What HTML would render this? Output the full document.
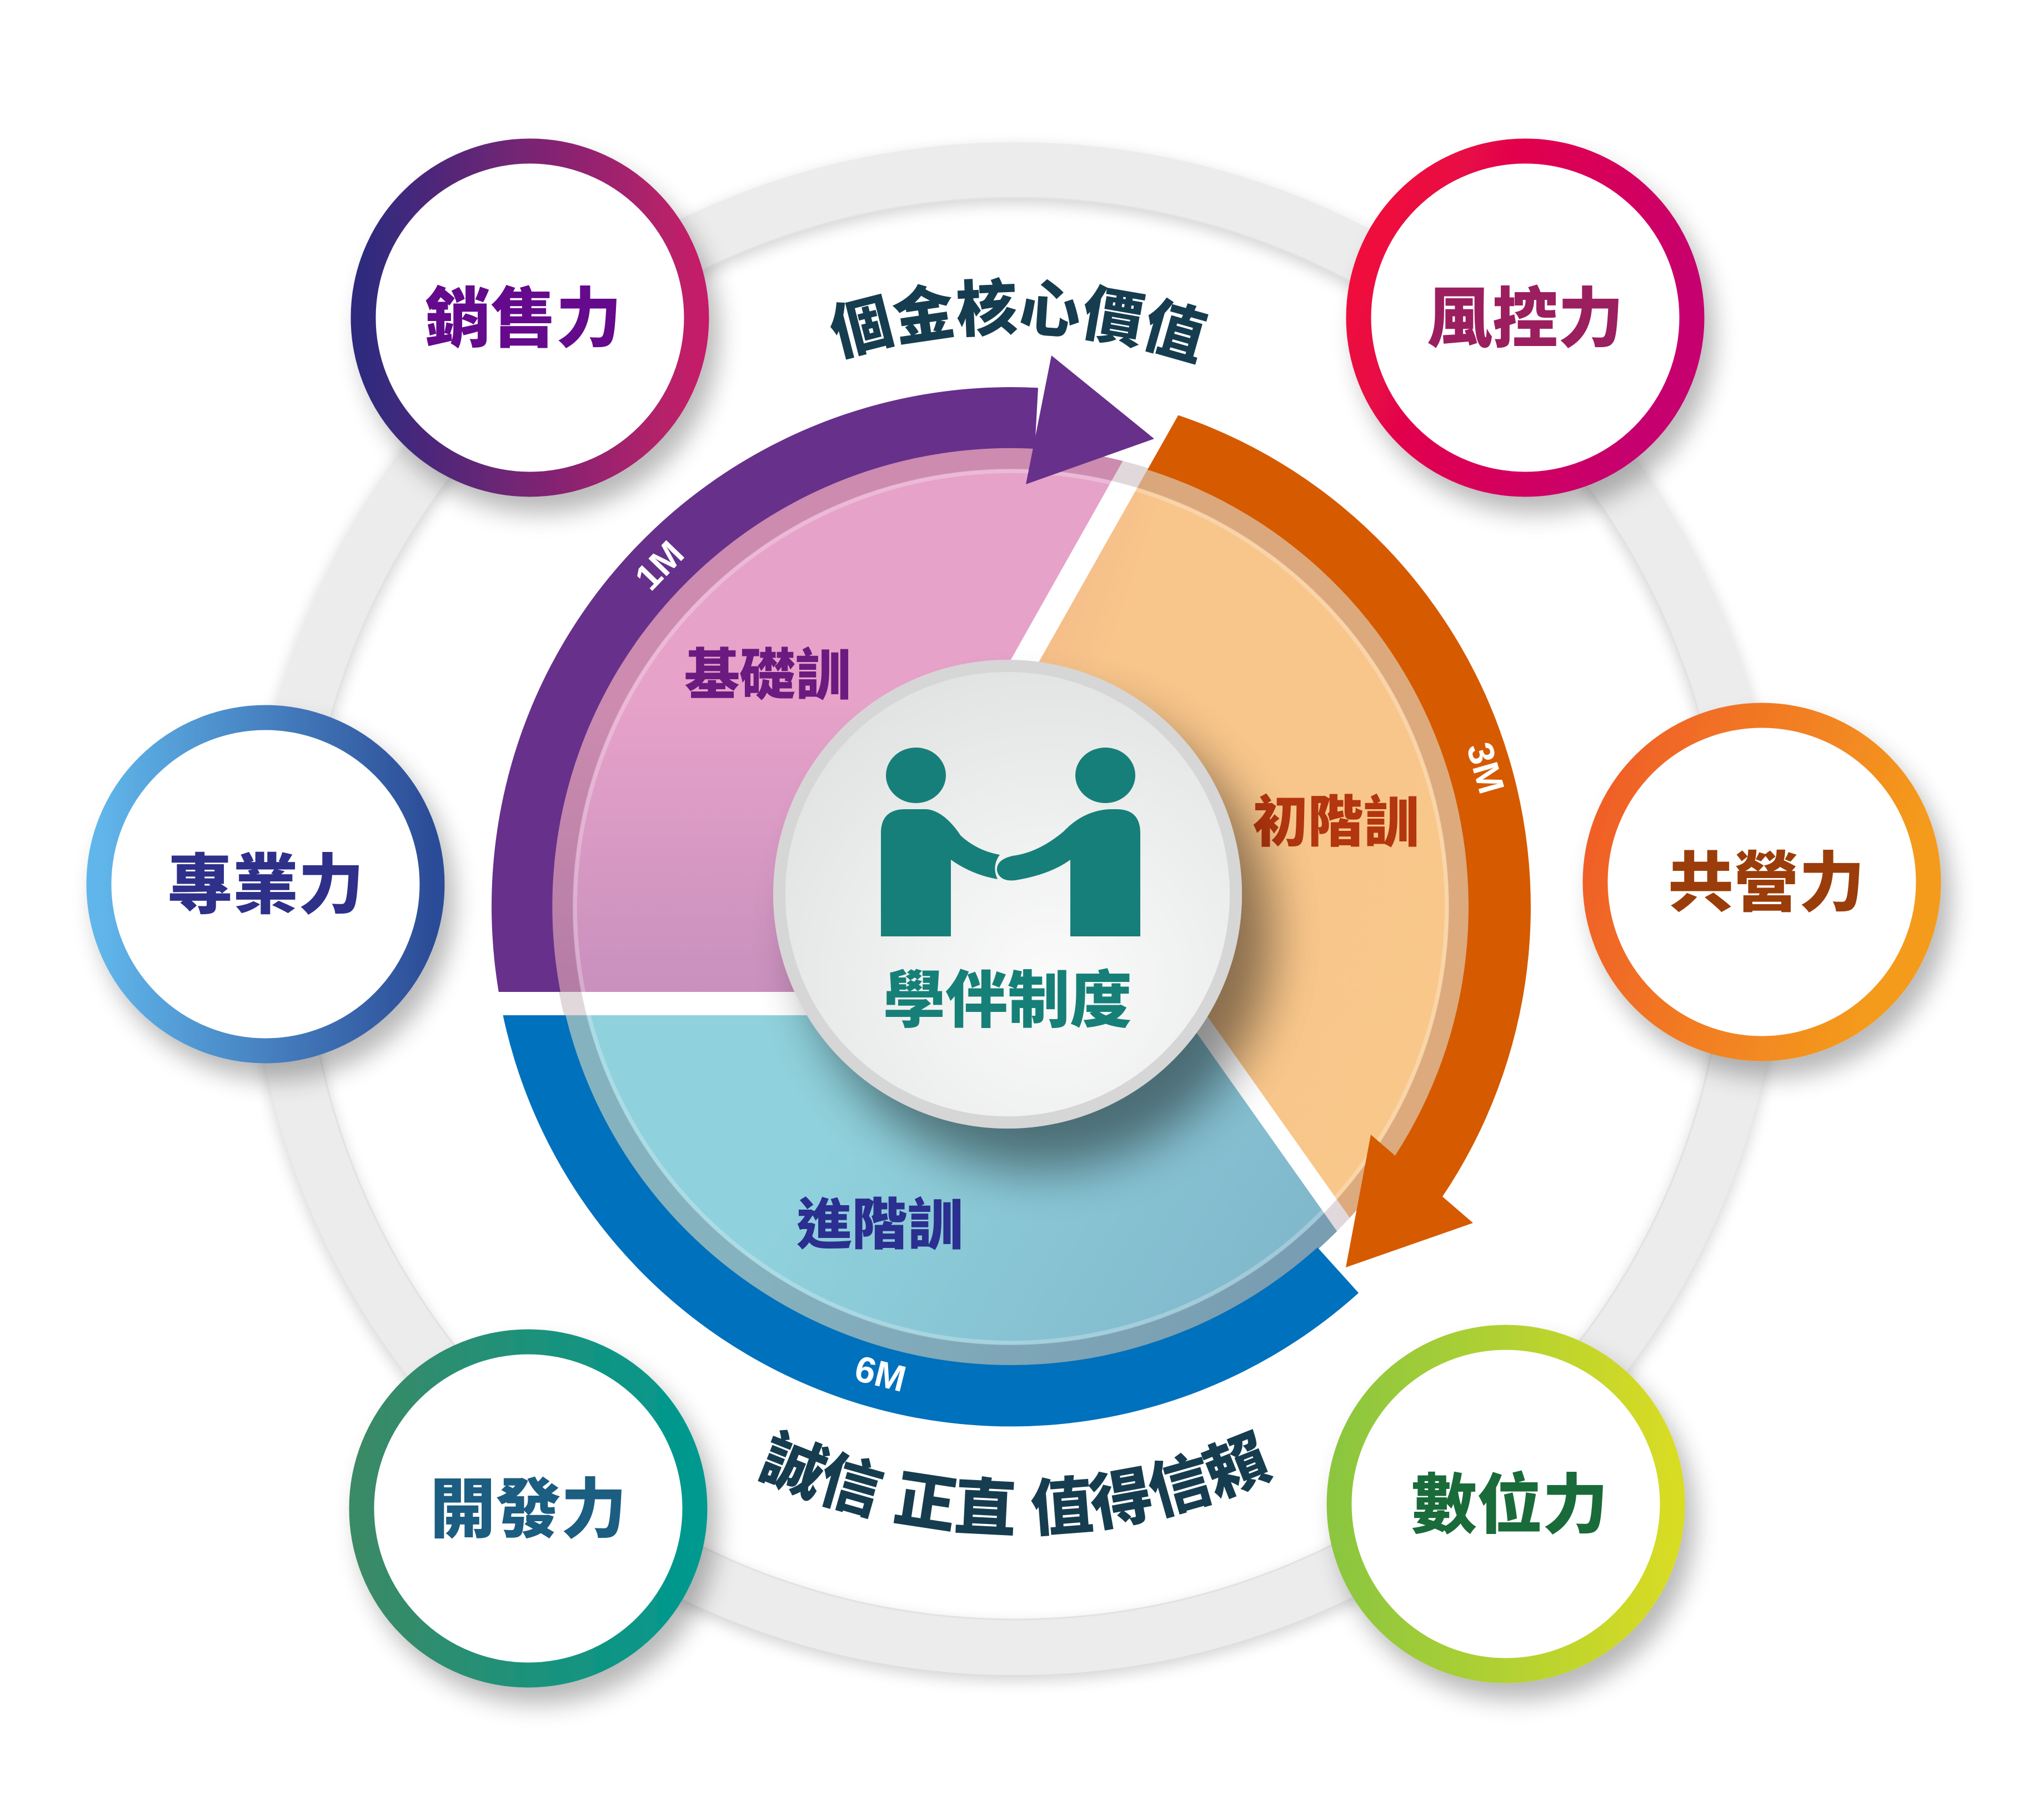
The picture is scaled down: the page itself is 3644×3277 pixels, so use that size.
<!DOCTYPE html>
<html><head><meta charset="utf-8">
<style>
html,body{margin:0;padding:0;background:#fff;}
svg{display:block;}
text{font-family:"Liberation Sans","Noto Sans CJK TC",sans-serif;font-weight:900;}
</style></head>
<body>
<svg width="3644" height="3277" viewBox="0 0 3644 3277" xmlns="http://www.w3.org/2000/svg">
<defs>
  <filter id="sh" x="-30%" y="-30%" width="160%" height="160%">
    <feGaussianBlur in="SourceAlpha" stdDeviation="22"/>
    <feOffset dx="18" dy="30" result="o"/>
    <feComponentTransfer><feFuncA type="linear" slope="0.28"/></feComponentTransfer>
    <feMerge><feMergeNode/><feMergeNode in="SourceGraphic"/></feMerge>
  </filter>
  <filter id="shc" x="-40%" y="-40%" width="180%" height="180%">
    <feGaussianBlur in="SourceAlpha" stdDeviation="45"/>
    <feOffset dx="55" dy="75" result="o"/>
    <feComponentTransfer><feFuncA type="linear" slope="0.45"/></feComponentTransfer>
    <feMerge><feMergeNode/><feMergeNode in="SourceGraphic"/></feMerge>
  </filter>
  <filter id="shr" x="-10%" y="-10%" width="120%" height="120%">
    <feGaussianBlur in="SourceAlpha" stdDeviation="14"/>
    <feOffset dx="0" dy="10"/>
    <feComponentTransfer><feFuncA type="linear" slope="0.18"/></feComponentTransfer>
    <feMerge><feMergeNode/><feMergeNode in="SourceGraphic"/></feMerge>
  </filter>
  <linearGradient id="g1" x1="0" y1="0" x2="1" y2="0"><stop offset="0" stop-color="#2e2a7e"/><stop offset="1" stop-color="#c41f68"/></linearGradient>
  <linearGradient id="g2" x1="0" y1="0" x2="1" y2="0.4"><stop offset="0" stop-color="#f50a35"/><stop offset="1" stop-color="#c6006e"/></linearGradient>
  <linearGradient id="g3" x1="0" y1="0" x2="1" y2="0"><stop offset="0" stop-color="#60b6ea"/><stop offset="1" stop-color="#2c4c97"/></linearGradient>
  <linearGradient id="g4" x1="0" y1="0" x2="1" y2="0.3"><stop offset="0" stop-color="#ef5a29"/><stop offset="1" stop-color="#f49b1d"/></linearGradient>
  <linearGradient id="g5" x1="0" y1="0" x2="1" y2="0"><stop offset="0" stop-color="#3a8a66"/><stop offset="1" stop-color="#00998f"/></linearGradient>
  <linearGradient id="g6" x1="0" y1="0" x2="1" y2="0"><stop offset="0" stop-color="#8cc63f"/><stop offset="1" stop-color="#d8dc24"/></linearGradient>
  <linearGradient id="pk" x1="0" y1="0" x2="0" y2="1"><stop offset="0.65" stop-color="#e6a2c9"/><stop offset="1" stop-color="#c990be"/></linearGradient>
  <linearGradient id="or" x1="0" y1="0" x2="1" y2="0.6"><stop offset="0" stop-color="#e99e80"/><stop offset="0.35" stop-color="#f8c58b"/><stop offset="1" stop-color="#f9c88a"/></linearGradient>
  <linearGradient id="bl" x1="0" y1="0" x2="1" y2="0.3"><stop offset="0.4" stop-color="#8fd1dc"/><stop offset="1" stop-color="#78a9c2"/></linearGradient>
  <radialGradient id="cc" cx="0.6" cy="0.7" r="0.8"><stop offset="0" stop-color="#fbfbfb"/><stop offset="1" stop-color="#dfe1e1"/></radialGradient>
  <clipPath id="pie"><circle cx="1820" cy="1633" r="828"/></clipPath>
  <clipPath id="cpPurple"><polygon points="600,300 2330,300 1490,1786 600,1786"/></clipPath>
  <clipPath id="cpOrange"><polygon points="2374,300 3200,300 3200,2400 2500,2400 1535,1786"/></clipPath>
  <clipPath id="cpBlue"><polygon points="600,1828 2132,1828 2961,3000 600,3000"/></clipPath>
  <path id="topArc" d="M 778 1636 A 1042 1042 0 0 1 2862 1636"/>
  <path id="botArc" d="M 708 1636 A 1120 1120 0 0 0 2948 1636"/>
</defs>

<!-- big gray ring -->
<g filter="url(#shr)">
<circle cx="1828" cy="1636" r="1330" fill="none" stroke="#ececec" stroke-width="100"/>
</g>
<circle cx="1828" cy="1636" r="1280" fill="none" stroke="#e2e2e2" stroke-width="3"/>

<!-- arched texts -->
<text font-size="110" fill="#163d4f" text-anchor="middle"><textPath href="#topArc" startOffset="50.4%">個金核心價值</textPath></text>
<text font-size="112" fill="#163d4f" text-anchor="middle"><textPath href="#botArc" startOffset="50%">誠信 正直 值得信賴</textPath></text>

<!-- pie fills -->
<g clip-path="url(#pie)">
  <polygon points="600,300 2320,300 1483,1786 600,1786" fill="url(#pk)"/>
  <polygon points="2374,300 3000,300 3000,2700 2789,2700 2011,1600 1650,1582" fill="url(#or)"/>
  <polygon points="600,1828 2132,1828 2961,3000 600,3000" fill="url(#bl)"/>
  <circle cx="1820" cy="1633" r="808" fill="none" stroke="rgba(90,40,60,0.18)" stroke-width="40"/>
  <circle cx="1820" cy="1633" r="785" fill="none" stroke="rgba(255,255,255,0.25)" stroke-width="8"/>
</g>

<!-- bands -->
<g clip-path="url(#cpPurple)">
  <path d="M 1010.6 2100 A 935 935 0 0 1 1869 698.3 L 1863 808 A 825 825 0 0 0 1105.6 2045.5 Z" fill="#67308b"/>
</g>
<polygon points="1893,640 2078,790 1847,872" fill="#67308b"/>
<g clip-path="url(#cpOrange)">
  <path d="M 2078 734 A 935 935 0 0 1 2596 2156 L 2511 2082 A 825 825 0 0 0 2047 840 Z" fill="#d65a00"/>
</g>
<polygon points="2468,2043 2652,2202 2423,2282" fill="#d65a00"/>
<g clip-path="url(#cpBlue)">
  <path d="M 2446 2328 A 935 935 0 0 1 899.2 1795.4 L 1007.5 1776.3 A 825 825 0 0 0 2372 2246 Z" fill="#0071bc"/>
</g>

<!-- band labels -->
<text x="1189" y="1040" font-size="66" fill="#fff" text-anchor="middle" transform="rotate(-46 1189 1020)">1M</text>
<text x="2674" y="1405" font-size="66" fill="#fff" text-anchor="middle" transform="rotate(74 2674 1383)">3M</text>
<text x="1585" y="2496" font-size="66" fill="#fff" text-anchor="middle" transform="rotate(14 1585 2474)">6M</text>

<!-- segment labels -->
<text x="1382" y="1250" font-size="100" fill="#6b1a80" text-anchor="middle">基礎訓</text>
<text x="2405" y="1515" font-size="100" fill="#b3360e" text-anchor="middle">初階訓</text>
<text x="1584" y="2240" font-size="100" fill="#2b2f8f" text-anchor="middle">進階訓</text>

<!-- center circle -->
<g filter="url(#shc)">
<circle cx="1814" cy="1610" r="422" fill="#d6d6d6"/>
</g>
<circle cx="1814" cy="1610" r="400" fill="url(#cc)"/>
<!-- handshake -->
<g fill="#177f7a">
  <ellipse cx="1649" cy="1396" rx="54" ry="50"/>
  <ellipse cx="1990" cy="1396" rx="54" ry="50"/>
  <path d="M1586,1686 L1586,1500 Q1586,1457 1630,1457 L1668,1457 Q1700,1460 1730,1505 Q1760,1532 1800,1539 Q1785,1560 1796,1583 Q1750,1575 1712,1548 L1712,1686 Z"/>
  <path d="M2053,1686 L2053,1500 Q2053,1457 2010,1457 L1997,1457 Q1950,1460 1915,1497 Q1870,1535 1823,1541 Q1793,1548 1795,1568 Q1800,1588 1828,1585 Q1890,1575 1927,1548 L1927,1686 Z"/>
</g>
<text x="1814" y="1840" font-size="112" fill="#168078" text-anchor="middle">學伴制度</text>

<!-- outer small circles -->
<g filter="url(#sh)">
  <circle cx="954" cy="572" r="300" fill="#fff" stroke="url(#g1)" stroke-width="45"/>
  <circle cx="2746" cy="572" r="300" fill="#fff" stroke="url(#g2)" stroke-width="45"/>
  <circle cx="478" cy="1592" r="300" fill="#fff" stroke="url(#g3)" stroke-width="45"/>
  <circle cx="3172" cy="1588" r="300" fill="#fff" stroke="url(#g4)" stroke-width="45"/>
  <circle cx="951" cy="2716" r="300" fill="#fff" stroke="url(#g5)" stroke-width="45"/>
  <circle cx="2711" cy="2708" r="300" fill="#fff" stroke="url(#g6)" stroke-width="45"/>
</g>
<g font-size="118" text-anchor="middle">
  <text x="942" y="615" fill="#650a8c">銷售力</text>
  <text x="2746" y="615" fill="#9b1f5f">風控力</text>
  <text x="478" y="1635" fill="#2e3089">專業力</text>
  <text x="3180" y="1631" fill="#9a3d0a">共營力</text>
  <text x="951" y="2759" fill="#1c5d82">開發力</text>
  <text x="2718" y="2751" fill="#1a6b3a">數位力</text>
</g>
</svg>
</body></html>
